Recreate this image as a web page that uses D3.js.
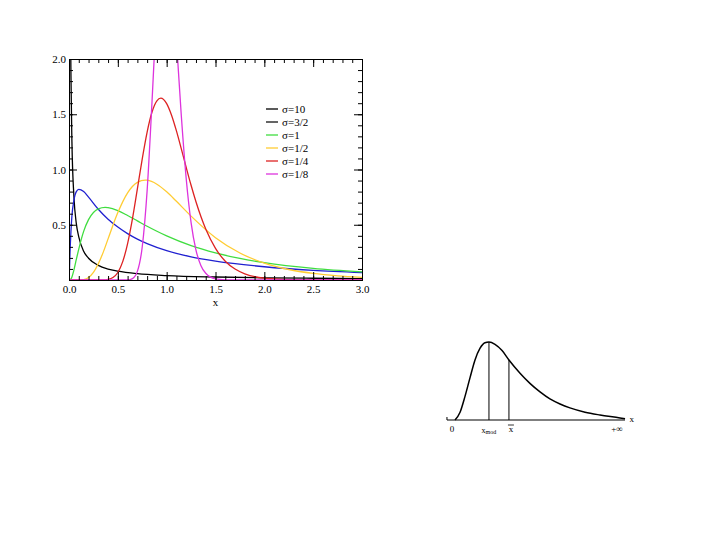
<!DOCTYPE html>
<html>
<head>
<meta charset="utf-8">
<script src="https://cdn.jsdelivr.net/npm/d3@7"></script>
<style>
  body { margin: 0; background: #fff; }
  text { font-family: "Liberation Serif", "DejaVu Serif", serif; }
</style>
</head>
<body>
<div id="chart"></div>
<script>
// sigma labels and colours of the curves
var sigmaLabels = ["σ=10", "σ=3/2", "σ=1", "σ=1/2", "σ=1/4", "σ=1/8"];
var sigmaColors = ["#000000", "#2020d0", "#40dd40", "#ffcc33", "#dd2222", "#dd33dd"];
// the legend shows the sigma=3/2 sample in black
var legendColors = ["#000000", "#111111", "#40dd40", "#ffcc33", "#dd2222", "#dd33dd"];

// values (x, density)
var xS10 = [0.005, 0.01, 0.015, 0.02, 0.03, 0.05, 0.075, 0.1, 0.15, 0.2, 0.3, 0.4, 0.5, 0.7, 1.0, 1.5, 2.0, 2.5, 3.0];
var yS10 = [6.9, 3.59, 2.44, 1.85, 1.25, 0.76, 0.51, 0.39, 0.26, 0.197, 0.132, 0.099, 0.080, 0.057, 0.040, 0.027, 0.020, 0.016, 0.013];

var xS32 = [0, 0.005, 0.01, 0.02, 0.03, 0.05, 0.075, 0.1, 0.15, 0.2, 0.3, 0.4, 0.5, 0.6, 0.7, 0.8, 1.0, 1.25, 1.5, 2.0, 2.5, 3.0];
var yS32 = [0, 0.10, 0.24, 0.44, 0.58, 0.72, 0.80, 0.82, 0.80, 0.75, 0.64, 0.55, 0.48, 0.42, 0.37, 0.33, 0.266, 0.21, 0.171, 0.12, 0.088, 0.068];

var xS1 = [0, 0.02, 0.03, 0.05, 0.075, 0.1, 0.15, 0.2, 0.3, 0.37, 0.4, 0.5, 0.6, 0.7, 0.8, 0.9, 1.0, 1.25, 1.5, 1.75, 2.0, 2.5, 3.0];
var yS1 = [0, 0.01, 0.028, 0.09, 0.186, 0.28, 0.44, 0.546, 0.644, 0.658, 0.655, 0.628, 0.584, 0.535, 0.486, 0.441, 0.399, 0.311, 0.245, 0.195, 0.157, 0.105, 0.073];

var xS12 = [0, 0.1, 0.15, 0.2, 0.25, 0.3, 0.35, 0.4, 0.5, 0.6, 0.7, 0.78, 0.8, 0.9, 1.0, 1.1, 1.25, 1.5, 1.75, 2.0, 2.25, 2.5, 2.75, 3.0];
var yS12 = [0, 0, 0.004, 0.022, 0.068, 0.147, 0.25, 0.372, 0.61, 0.789, 0.884, 0.904, 0.903, 0.867, 0.798, 0.712, 0.578, 0.383, 0.244, 0.153, 0.095, 0.060, 0.038, 0.024];

var xS14 = [0, 0.35, 0.4, 0.45, 0.5, 0.55, 0.6, 0.65, 0.7, 0.75, 0.8, 0.85, 0.9, 0.94, 1.0, 1.05, 1.1, 1.15, 1.2, 1.25, 1.3, 1.4, 1.5, 1.6, 1.7, 1.8, 2.0, 2.25, 2.5, 3.0];
var yS14 = [0, 0, 0.005, 0.022, 0.068, 0.166, 0.33, 0.556, 0.824, 1.097, 1.339, 1.52, 1.622, 1.646, 1.596, 1.491, 1.349, 1.187, 1.019, 0.857, 0.708, 0.461, 0.286, 0.17, 0.099, 0.056, 0.017, 0.004, 0.001, 0];

var xS18 = [0, 0.55, 0.6, 0.65, 0.7, 0.75, 0.8, 0.85, 0.9, 0.95, 1.0, 1.05, 1.1, 1.15, 1.2, 1.25, 1.3, 1.35, 1.4, 1.5, 1.6, 1.7, 3.0];
var yS18 = [0, 0, 0.001, 0.013, 0.078, 0.301, 0.81, 1.613, 2.486, 3.088, 3.19, 2.816, 2.17, 1.486, 0.918, 0.519, 0.271, 0.132, 0.061, 0.011, 0.002, 0, 0];

var seriesX = [xS10, xS32, xS1, xS12, xS14, xS18];
var seriesY = [yS10, yS32, yS1, yS12, yS14, yS18];

// tick labels
var xTicks = [0, 0.5, 1.0, 1.5, 2.0, 2.5, 3.0];
var yTicks = [0.5, 1.0, 1.5, 2.0];

// sketch of a skewed density (relative units)
var sketchX = [0.018, 0.048, 0.077, 0.107, 0.137, 0.167, 0.196, 0.22, 0.256, 0.298, 0.339, 0.405, 0.464, 0.524, 0.583, 0.643, 0.702, 0.792, 0.881, 1.0, 1.03];
var sketchY = [0, 0.10, 0.30, 0.54, 0.77, 0.92, 0.99, 1.0, 0.97, 0.89, 0.77, 0.60, 0.47, 0.36, 0.27, 0.205, 0.155, 0.10, 0.064, 0.026, 0.015];
var markX = [0.22, 0.339];
var markY = [1.0, 0.77];

var W = 720, H = 540;
var svg = d3.select("#chart").append("svg")
    .attr("width", W)
    .attr("height", H);

// plot box
var box = {left: 69, right: 362, top: 59, bottom: 280};

var x = d3.scaleLinear().domain([0, 3]).range([box.left, box.right]);
var y = d3.scaleLinear().domain([0, 2]).range([box.bottom, box.top]);

svg.append("clipPath").attr("id", "clip")
  .append("rect")
    .attr("x", box.left).attr("y", box.top)
    .attr("width", box.right - box.left)
    .attr("height", box.bottom - box.top);

// curves
var line = d3.line().curve(d3.curveMonotoneX);
var curves = svg.append("g").attr("clip-path", "url(#clip)");
seriesX.forEach(function(xs, i) {
  var pts = xs.map(function(v, j) { return [x(v), y(seriesY[i][j])]; });
  curves.append("path")
    .attr("d", line(pts))
    .attr("fill", "none")
    .attr("stroke", sigmaColors[i])
    .attr("stroke-width", 1.3);
});

// axes, ticks pointing inward on all four sides
var minorX = d3.range(0, 31).map(function(d) { return d / 10; });
var minorY = d3.range(0, 21).map(function(d) { return d / 10; });

function styleAxis(g) {
  g.select(".domain").attr("stroke", "#000");
  g.selectAll("line").attr("stroke", "#000");
  g.selectAll("text")
    .style("font-family", "Liberation Serif, serif")
    .style("font-size", "11px")
    .attr("fill", "#000");
}

svg.append("g").attr("transform", "translate(0," + box.bottom + ")")
  .call(d3.axisBottom(x).tickValues(xTicks).tickSize(-8).tickPadding(5).tickFormat(d3.format(".1f")))
  .call(styleAxis);
svg.append("g").attr("transform", "translate(0," + box.bottom + ")")
  .call(d3.axisBottom(x).tickValues(minorX).tickSize(-4).tickFormat(""))
  .call(styleAxis);
svg.append("g").attr("transform", "translate(0," + box.top + ")")
  .call(d3.axisTop(x).tickValues(xTicks).tickSize(-8).tickFormat(""))
  .call(styleAxis);
svg.append("g").attr("transform", "translate(0," + box.top + ")")
  .call(d3.axisTop(x).tickValues(minorX).tickSize(-4).tickFormat(""))
  .call(styleAxis);

svg.append("g").attr("transform", "translate(" + box.left + ",0)")
  .call(d3.axisLeft(y).tickValues(yTicks).tickSize(-8).tickPadding(3).tickFormat(d3.format(".1f")))
  .call(styleAxis);
svg.append("g").attr("transform", "translate(" + box.left + ",0)")
  .call(d3.axisLeft(y).tickValues(minorY).tickSize(-4).tickFormat(""))
  .call(styleAxis);
svg.append("g").attr("transform", "translate(" + box.right + ",0)")
  .call(d3.axisRight(y).tickValues(yTicks).tickSize(-8).tickFormat(""))
  .call(styleAxis);
svg.append("g").attr("transform", "translate(" + box.right + ",0)")
  .call(d3.axisRight(y).tickValues(minorY).tickSize(-4).tickFormat(""))
  .call(styleAxis);

// x title
svg.append("text")
    .attr("x", (box.left + box.right) / 2)
    .attr("y", 306)
    .style("text-anchor", "middle")
    .style("font-size", "11px")
    .text("x");

// legend
var legend = svg.append("g");
sigmaLabels.forEach(function(lab, i) {
  var ly = 109 + i * 13;
  legend.append("line")
    .attr("x1", 266).attr("x2", 278)
    .attr("y1", ly).attr("y2", ly)
    .attr("stroke", legendColors[i])
    .attr("stroke-width", 1.3);
  legend.append("text")
    .attr("x", 282).attr("y", ly + 4)
    .style("font-size", "11px")
    .text(lab);
});

// sketch at the bottom right
var sx = d3.scaleLinear().domain([0, 1]).range([452, 620]);
var sy = d3.scaleLinear().domain([0, 1]).range([420, 342]);
var sk = svg.append("g");

sk.append("line")
  .attr("x1", sx(-0.03)).attr("x2", sx(1.03))
  .attr("y1", sy(0)).attr("y2", sy(0))
  .attr("stroke", "#000").attr("stroke-width", 1.2);
sk.append("line")
  .attr("x1", sx(-0.03)).attr("x2", sx(-0.03))
  .attr("y1", sy(0)).attr("y2", sy(0) - 3)
  .attr("stroke", "#000").attr("stroke-width", 1);

sk.append("path")
  .attr("d", d3.line().curve(d3.curveMonotoneX)(sketchX.map(function(v, j) { return [sx(v), sy(sketchY[j])]; })))
  .attr("fill", "none")
  .attr("stroke", "#000")
  .attr("stroke-width", 1.5);

markX.forEach(function(v, i) {
  sk.append("line")
    .attr("x1", sx(v)).attr("x2", sx(v))
    .attr("y1", sy(0)).attr("y2", sy(markY[i]))
    .attr("stroke", "#000").attr("stroke-width", 1);
});

sk.append("text").attr("x", sx(0)).attr("y", 432)
  .style("text-anchor", "middle").style("font-size", "9px").text("0");
var xm = sk.append("text").attr("x", sx(markX[0])).attr("y", 433)
  .style("text-anchor", "middle").style("font-size", "8px");
xm.append("tspan").text("x");
xm.append("tspan").attr("dy", 1).style("font-size", "6px").text("mod");
// x with a bar for the mean
sk.append("text").attr("x", sx(markX[1]) + 2).attr("y", 432)
  .style("text-anchor", "middle").style("font-size", "9px").text("x");
sk.append("line")
  .attr("x1", sx(markX[1]) - 1).attr("x2", sx(markX[1]) + 5)
  .attr("y1", 425).attr("y2", 425)
  .attr("stroke", "#000").attr("stroke-width", 0.8);
sk.append("text").attr("x", sx(1) - 3).attr("y", 432)
  .style("text-anchor", "middle").style("font-size", "9px").text("+∞");
sk.append("text").attr("x", sx(1.07)).attr("y", 422)
  .style("text-anchor", "middle").style("font-size", "9px").text("x");
</script>
</body>
</html>
